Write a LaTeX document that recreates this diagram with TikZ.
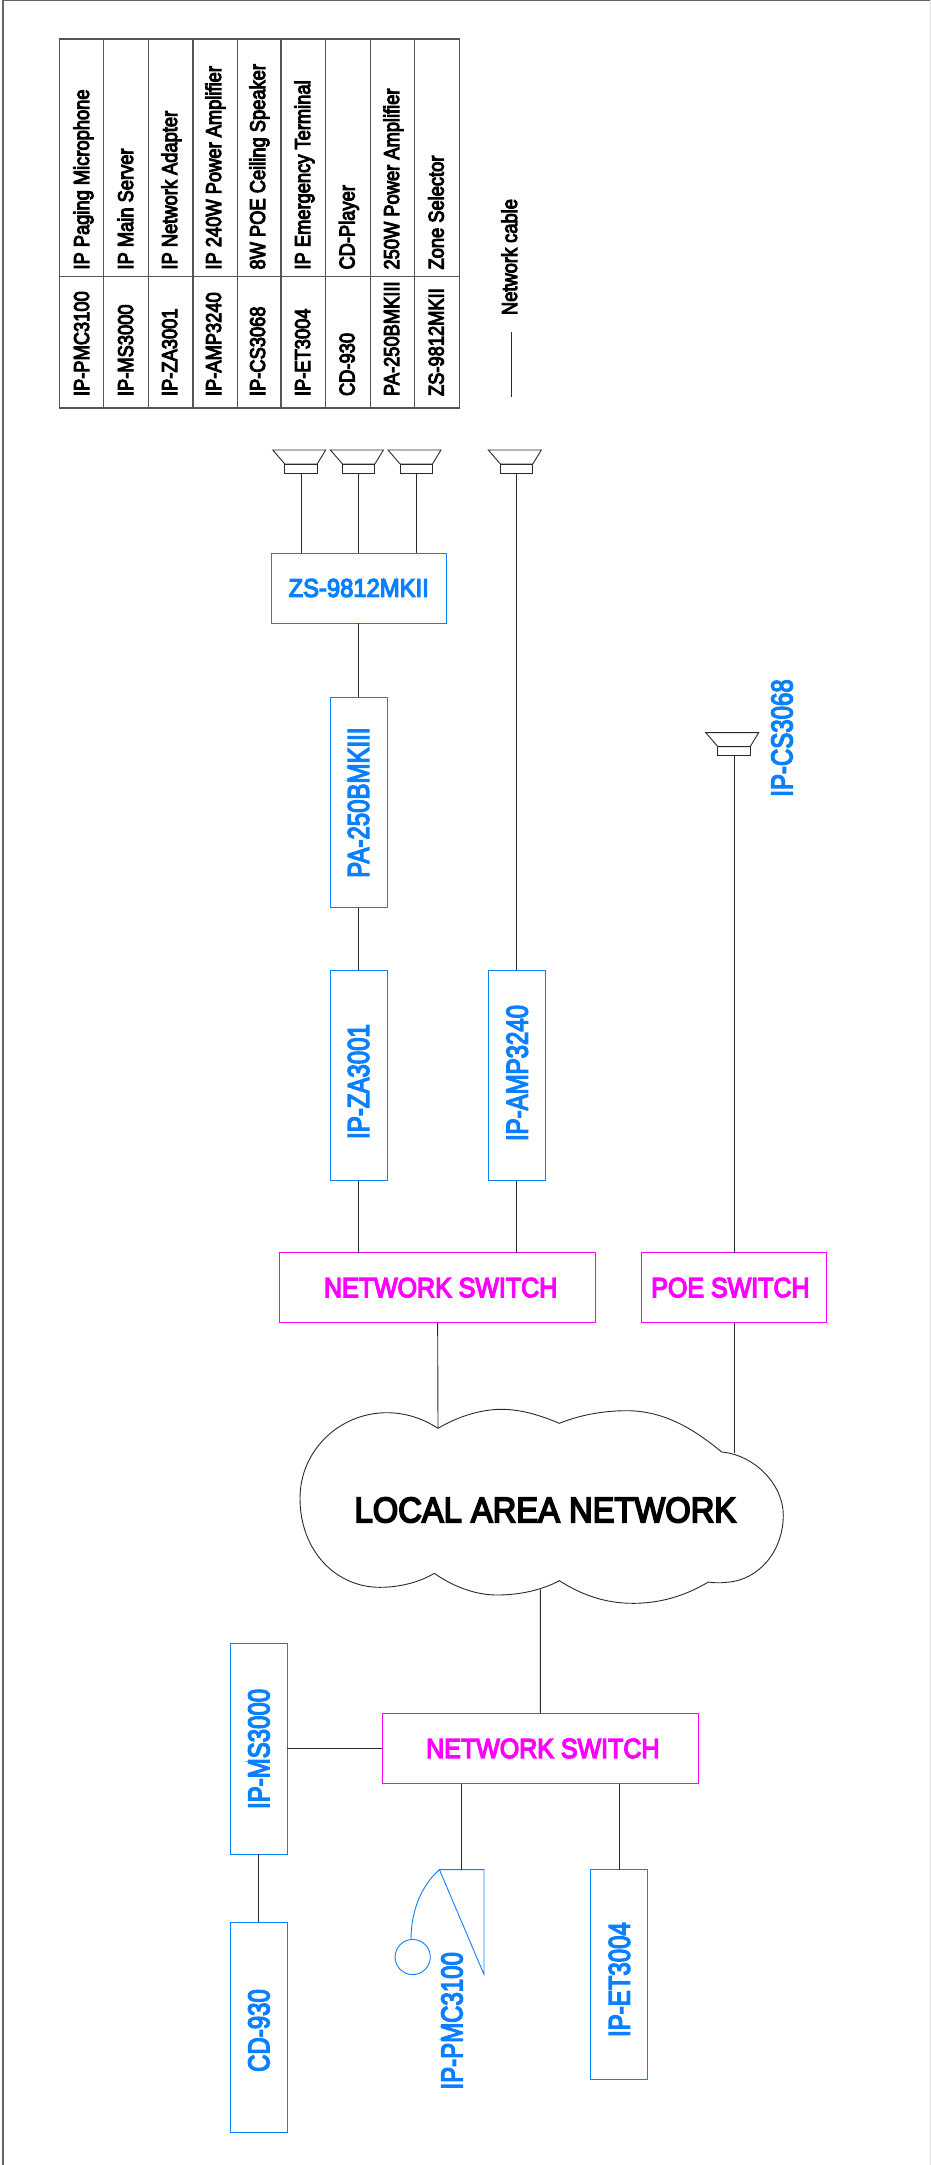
\documentclass[tikz,border=0pt]{standalone}
\usepackage{graphicx}
\usepackage{fontspec}
\setmainfont{Liberation Sans}
\newfontfamily\tf[Ligatures=NoCommon,RawFeature={embolden=5}]{Liberation Sans}
\definecolor{blu}{HTML}{0A80FF}
\definecolor{mag}{HTML}{FF00FF}
\definecolor{lin}{HTML}{2A2A2A}
\newcommand{\tT}[1]{\scalebox{1}[1.17]{\fontsize{18.3}{18.3}\tf\selectfont #1}}
\newcommand{\bT}[1]{\scalebox{1}[1.25]{\fontsize{24}{24}\tf\selectfont #1}}
\newcommand{\hT}[1]{\scalebox{1}[1.1]{\fontsize{25}{25}\tf\selectfont #1}}
\tikzset{
  wire/.style={draw=lin,line width=0.9pt},
  tabline/.style={draw=lin!80,line width=1.1pt},
  cell/.style={rotate=90,anchor=base west,inner sep=0pt,outer sep=0pt,text=black},
  bluebox/.style={draw=blu,line width=1pt,text=blu,inner sep=0pt,outer sep=0pt},
  rotbox/.style={bluebox,rotate=90,minimum height=57pt},
  magbox/.style={draw=mag,line width=1pt,text=mag,inner sep=0pt,outer sep=0pt,minimum height=70pt,minimum width=316pt},
  bluelab/.style={rotate=90,text=blu,inner sep=0pt,outer sep=0pt},
  micline/.style={draw=blu,line width=0.9pt},
  spk/.style={draw=lin,line width=0.9pt},
}
\begin{document}
\begin{tikzpicture}[x=1pt,y=-1pt]
\useasboundingbox (0,0) rectangle (931,2165);
% frame
\draw[draw=black!60,line width=1.5pt] (3,2165) -- (3,0.7) -- (931,0.7);
\draw[draw=black!12,line width=1pt] (930.2,0) -- (930.2,2165);
% legend table
\draw[tabline] (59.4,39) rectangle (459.6,408);
\foreach \x in {103.3,148.5,193,237.5,281,325.4,370.5,414.5} \draw[tabline] (\x,39) -- (\x,408);
\draw[tabline] (59.4,276.4) -- (459.6,276.4);
\foreach \n/\b/\m/\d in {1/89/IP-PMC3100/IP Paging Microphone,
  2/133/IP-MS3000/IP Main Server,
  3/177/IP-ZA3001/IP Network Adapter,
  4/221/IP-AMP3240/IP 240W Power Amplifier,
  5/265/IP-CS3068/8W POE Ceiling Speaker,
  6/310/IP-ET3004/IP Emergency Terminal,
  7/354.5/CD-930/CD-Player,
  8/399/PA-250BMKIII/250W Power Amplifier,
  9/443.6/ZS-9812MKII/Zone Selector}{
  \node[cell] (model\n) at (\b,396) {\tT{\m}};
  \node[cell] (desc\n) at (\b,269.5) {\tT{\d}};
}
\coordinate (cableA) at (511,332);
\coordinate (cableB) at (511,397);
\draw[wire] (cableA) -- (cableB);
\node[cell] (cable) at (517,315) {\tT{Network cable}};
% speakers
\foreach \n/\cx/\ty in {s1/301/450,s2/358.7/450,s3/416.3/450,s4/516.6/450,s5/734/732.6}{
  \draw[spk] (\cx-28.3,\ty) -- (\cx+24.7,\ty) -- (\cx+16.2,\ty+14) -- (\cx-16.2,\ty+14) -- cycle;
  \draw[spk] (\cx-16.2,\ty+14) rectangle (\cx+16.2,\ty+23.3);
  \coordinate (\n) at (\cx,\ty+23.3);
}
% devices
\node[bluebox,minimum width=174.6pt,minimum height=70pt] (zs) at (358.7,588) {\scalebox{1}[1.08]{\fontsize{23.8}{23.8}\tf\selectfont ZS-9812MKII}};
\node[rotbox,minimum width=210.3pt] (pa) at (358.5,802.6) {\bT{PA-250BMKIII}};
\node[rotbox,minimum width=210.3pt] (za) at (358.5,1075.5) {\bT{IP-ZA3001}\hspace*{12pt}};
\node[rotbox,minimum width=210.3pt] (amp) at (517.2,1075.5) {\hspace*{5pt}\bT{IP-AMP3240}};
\node[magbox] (sw1) at (437.65,1287.6) {\hspace*{6pt}\raisebox{-2.4pt}{\hT{NETWORK SWITCH}}};
\node[magbox,minimum width=185.3pt] (poe) at (733.95,1287.6) {\raisebox{-0.9pt}{\hT{POE SWITCH}}\hspace*{7pt}};
\node[bluelab] (cs) at (782,738) {\bT{IP-CS3068}};
% cloud
\coordinate (cloudTL) at (438,1428.3);
\coordinate (cloudTR) at (734,1453.3);
\coordinate (cloudB) at (540.4,1589.4);
\draw[draw=lin,line width=0.9pt] (cloudTL)
  .. controls (422,1418) and (405,1412.7) .. (386.7,1412.7)
  .. controls (340,1412.7) and (300,1450) .. (300,1498.3)
  .. controls (300,1550) and (335,1587.3) .. (380,1587.3)
  .. controls (400,1587.3) and (420,1582) .. (434.3,1573.3)
  .. controls (452,1586) and (475,1595) .. (496.7,1595)
  .. controls (520,1595) and (542,1590) .. (559.3,1580.7)
  .. controls (582,1595) and (605,1603.3) .. (633.3,1603.3)
  .. controls (665,1603.3) and (690,1593) .. (708.3,1582)
  .. controls (714,1583) and (720,1583) .. (726.7,1582.3)
  .. controls (760,1580) and (783.3,1550) .. (783.3,1515)
  .. controls (783.3,1485) and (755,1455) .. (721.7,1452)
  .. controls (695,1430) and (665,1410.7) .. (626.7,1410.7)
  .. controls (603,1410.7) and (580,1415) .. (559.3,1423.3)
  .. controls (542,1416) and (522,1409.3) .. (501.7,1409.3)
  .. controls (480,1409.3) and (457,1417) .. (cloudTL);
\node[inner sep=0pt,outer sep=0pt] (lan) at (545.4,1510) {\scalebox{1}[1.085]{\fontsize{32.7}{32.7}\tf\selectfont LOCAL AREA NETWORK}};
% lower group
\node[magbox,minimum height=70.3pt] (sw2) at (540.35,1748.45) {\hspace*{5pt}\raisebox{-2pt}{\hT{NETWORK SWITCH}}};
\node[rotbox,minimum width=210.8pt] (ms) at (258.9,1748.9) {\bT{IP-MS3000}};
\node[rotbox,minimum width=210.4pt] (cd) at (258.9,2027.5) {\bT{CD-930}\hspace*{6pt}};
\node[rotbox,minimum width=209.9pt] (et) at (619.4,1974.55) {\bT{IP-ET3004}\hspace*{10pt}};
\node[bluelab] (pmc) at (452,2020.8) {\bT{IP-PMC3100}};
% microphone
\coordinate (micTop) at (461.4,1869.6);
\draw[micline] (439.4,1869.6) -- (484,1869.6) -- (484,1974.5) -- cycle;
\draw[micline] (439.4,1869.6) .. controls (422,1885) and (411,1910) .. (411,1939.4);
\draw[micline] (412.7,1957) circle (17.6pt);
% connectors
\draw[wire] (s1) -- (s1 |- zs.north);
\draw[wire] (s2) -- (s2 |- zs.north);
\draw[wire] (s3) -- (s3 |- zs.north);
\draw[wire] (zs.south) -- (zs.south |- pa.east);
\draw[wire] (pa.west) -- (za.east);
\draw[wire] (za.west) -- (za.west |- sw1.north);
\draw[wire] (s4) -- (s4 |- amp.east);
\draw[wire] (s4 |- amp.west) -- (s4 |- sw1.north);
\draw[wire] (s5) -- (s5 |- poe.north);
\draw[wire] (s5 |- poe.south) -- (cloudTR);
\draw[wire] (sw1.south) -- (cloudTL);
\draw[wire] (cloudB) -- (sw2.north);
\draw[wire] (ms.south) -- (ms.south -| sw2.west);
\draw[wire] (ms.west) -- (cd.east);
\draw[wire] (micTop |- sw2.south) -- (micTop);
\draw[wire] (et.east |- sw2.south) -- (et.east);
\end{tikzpicture}
\end{document}
